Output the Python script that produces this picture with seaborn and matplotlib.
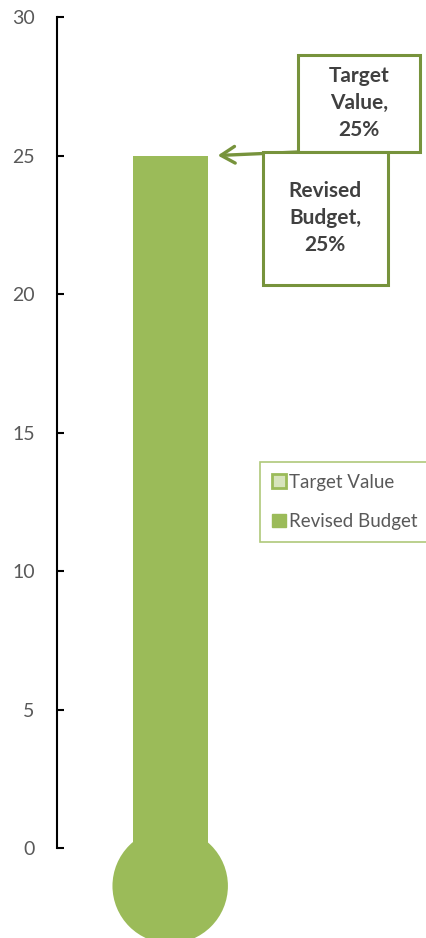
import numpy as np
import matplotlib
matplotlib.use('Agg')
import matplotlib.pyplot as plt
import pandas as pd
import seaborn as sns
from matplotlib.patches import Ellipse, Rectangle, Patch

# data
series = ['Target Value', 'Revised Budget']
values = [25, 25]
labels = ['Target\nValue,\n25%', 'Revised\nBudget,\n25%']
y_ticks = [0, 5, 10, 15, 20, 25, 30]

green = '#9BBB59'
dark_green = '#77933C'
text_col = '#404040'

sns.set_style('white')
plt.rcParams['font.family'] = ['Lato', 'DejaVu Sans']

fig = plt.figure(figsize=(4.26, 9.38), dpi=100)
W, H = 426, 938
ax = fig.add_axes([57 / W, (H - 848) / H, 369 / W, 831 / H])

df = pd.DataFrame({'group': ['t', 't'], 'series': series, 'value': values})
sns.barplot(data=df, x='group', y='value', hue='series', dodge=False,
            palette={'Target Value': 'white', 'Revised Budget': green},
            width=0.33, ax=ax, legend=False, saturation=1, linewidth=0)

ax.set_xlim(-0.5, 1.13)
ax.set_ylim(0, 30)
ax.set_yticks(y_ticks)
ax.set_xticks([])
ax.set_xlabel('')
ax.set_ylabel('')
for s in ['top', 'right', 'bottom']:
    ax.spines[s].set_visible(False)
ax.spines['left'].set_color('black')
ax.spines['left'].set_linewidth(1.5)
ax.tick_params(axis='y', direction='in', length=5, width=1.5, color='black',
               labelsize=14, labelcolor='#595959', pad=16, left=True)

# bulb of the thermometer
bulb = Ellipse((0, -1.37), 0.51, 4.15, facecolor=green, edgecolor='none',
               clip_on=False, zorder=1)
ax.add_patch(bulb)


# label boxes (axes fraction)
def box(cx, cy, w, h, txt):
    ax.add_patch(Rectangle((cx - w / 2 / 369, cy - h / 2 / 831), w / 369, h / 831,
                           transform=ax.transAxes, facecolor='white',
                           edgecolor=dark_green, lw=2.2, clip_on=False, zorder=5))
    ax.text(cx, cy, txt, transform=ax.transAxes, ha='center', va='center',
            fontsize=15, fontweight='bold', color=text_col, zorder=6,
            linespacing=1.45)


ax.annotate('', xy=(0.21, 25), xycoords='data',
            xytext=((298 - 57) / 369, (848 - 152) / 831), textcoords='axes fraction',
            arrowprops=dict(arrowstyle='->,head_length=1.0,head_width=0.6',
                            color=dark_green, lw=2.4, shrinkA=0, shrinkB=0),
            zorder=4)
box((359 - 57) / 369, (848 - 103) / 831, 122, 97, labels[0])
box((325 - 57) / 369, (848 - 218) / 831, 125, 133, labels[1])

handles = [Patch(facecolor='#d7e4bc', edgecolor=green, lw=2),
           Patch(facecolor=green, edgecolor=green)]
leg = ax.legend(handles, series, loc='upper left',
                bbox_to_anchor=((260 - 57) / 369, (848 - 462) / 831),
                borderaxespad=0, fontsize=13.5, handlelength=0.75, handleheight=0.75,
                handletextpad=0.2, labelspacing=1.2, frameon=True, fancybox=False,
                borderpad=0.62)
leg.get_frame().set_edgecolor(green)
leg.get_frame().set_linewidth(1.2)
for t in leg.get_texts():
    t.set_color('#595959')

fig.savefig('out.png', dpi=100)
